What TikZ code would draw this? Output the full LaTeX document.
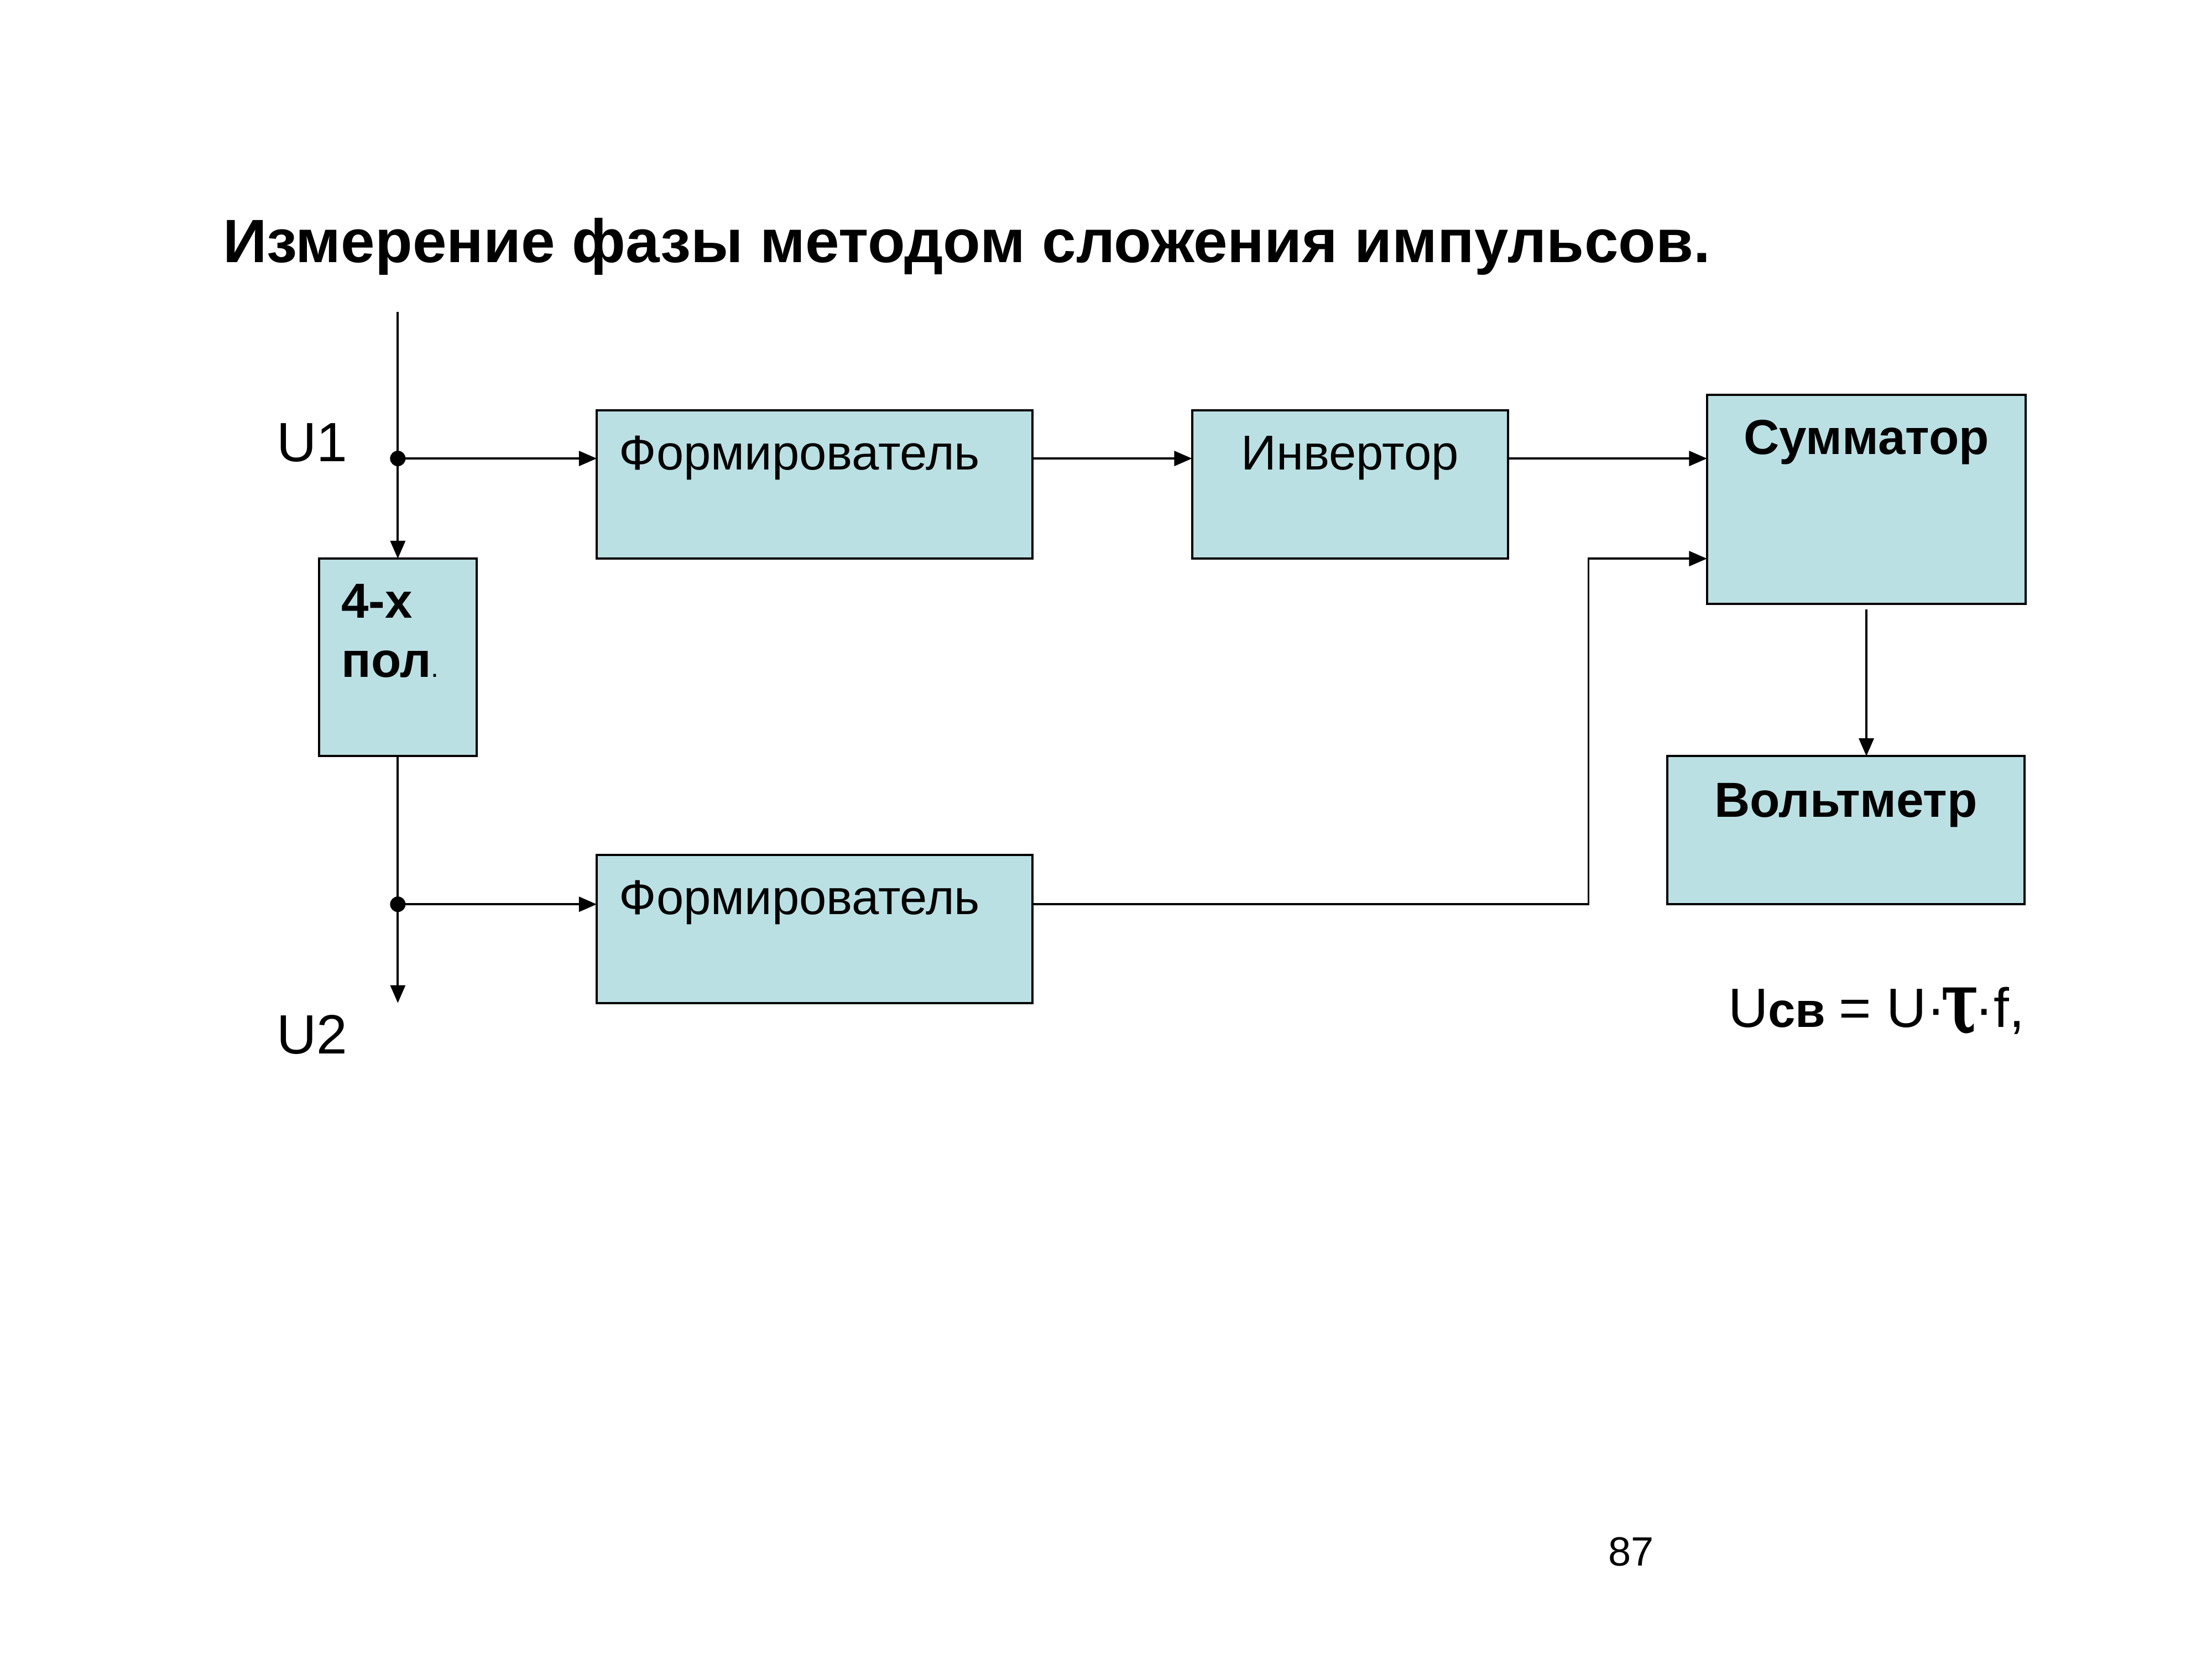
\documentclass[tikz,border=0pt]{standalone}
\usepackage{fontspec}
\setmainfont{Liberation Sans}
\newfontfamily\taufont{DejaVu Serif}
\usetikzlibrary{arrows.meta,fit}
\definecolor{boxfill}{RGB}{187,224,227}
\tikzset{
  blk/.style={draw=black, line width=1.1pt, fill=boxfill, inner sep=0pt, outer sep=0pt},
  wire/.style={line width=1.1pt},
  arr/.style={line width=1.1pt, -{Triangle[length=9pt,width=7.5pt]}},
  lbl/.style={anchor=base west, inner sep=0pt, outer sep=0pt},
  clbl/.style={anchor=base, inner sep=0pt, outer sep=0pt},
  boxtext/.style={font=\fontsize{24.7pt}{30pt}\selectfont},
  boxbold/.style={font=\fontsize{24.8pt}{30pt}\selectfont\bfseries},
  big/.style={font=\fontsize{27.9pt}{33pt}\selectfont},
}
\begin{document}
\begin{tikzpicture}[x=0.025cm,y=-0.025cm]
\useasboundingbox (0,0) rectangle (1568,1176);

% title
\node[lbl, font=\fontsize{30.85pt}{37pt}\selectfont\bfseries] (title) at (158,186) {Измерение фазы методом сложения импульсов.};

% boxes
\node[blk, fit={(423,291) (732,396)}] (f1) {};
\node[blk, fit={(845,291) (1069,396)}] (inv) {};
\node[blk, fit={(1210,280) (1436,428)}] (sum) {};
\node[blk, fit={(1182,536) (1435,641)}] (volt) {};
\node[blk, fit={(226,396) (338,536)}] (q) {};
\node[blk, fit={(423,606) (732,711)}] (f2) {};

% box texts
\node[lbl, boxtext] (f1t) at (439,333) {Формирователь};
\node[clbl, boxtext] (invt) at (957,333) {Инвертор};
\node[clbl, boxbold] (sumt) at (1323,322) {Сумматор};
\node[clbl, boxbold] (voltt) at (1308.5,579) {Вольтметр};
\node[lbl, boxbold] (qt1) at (242,438) {4-х};
\node[lbl, boxbold] (qt2) at (242,480) {пол{\mdseries\fontsize{14pt}{16pt}\selectfont.}};
\node[lbl, boxtext] (f2t) at (439,648) {Формирователь};

% coordinates
\coordinate (top) at (282,221);
\coordinate (d1) at (282,325);
\coordinate (d2) at (282,641);
\coordinate (u2end) at (282,711);
\coordinate (bend) at (1126,396);

% connectors
\draw[wire] (top) -- (d1);
\draw[arr] (d1) -- (q.north);
\draw[wire] (q.south) -- (d2);
\draw[arr] (d2) -- (u2end);
\draw[arr] (d1) -- (d1 -| f1.west);
\draw[arr] (d2) -- (d2 -| f2.west);
\draw[arr] (f1.east |- d1) -- (d1 -| inv.west);
\draw[arr] (inv.east |- d1) -- (d1 -| sum.west);
\draw[arr] (f2.east |- d2) -- (bend |- d2) -- (bend) -- (bend -| sum.west);
\draw[arr] ([yshift=-0.1cm]sum.south) -- (sum.south |- volt.north);

\fill (d1) circle[radius=5.5];
\fill (d2) circle[radius=5.5];

% labels
\node[lbl, big] (u1) at (196,327) {U1};
\node[lbl, big] (u2) at (196,747) {U2};
\node[lbl, big] (formula) at (1225,728) {U{\bfseries\fontsize{24.8pt}{30pt}\selectfont св}\kern-1pt{} = U·\kern-2pt\raisebox{-3pt}{\scalebox{0.75}[1.15]{\taufont\bfseries\fontsize{38pt}{38pt}\selectfont τ}}\kern-2pt·f,};
\node[lbl, font=\fontsize{20.6pt}{24pt}\selectfont] (page) at (1140,1110) {87};
\end{tikzpicture}
\end{document}
